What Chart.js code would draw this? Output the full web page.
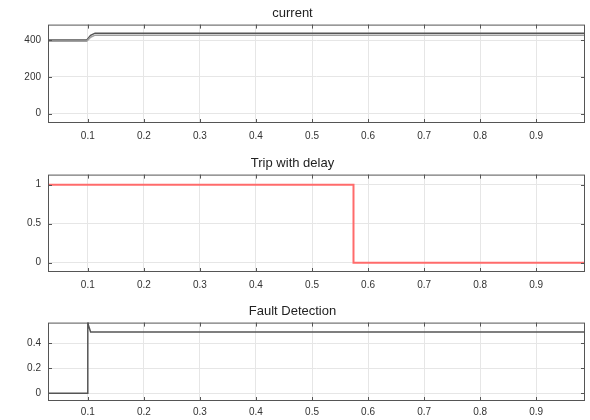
<!DOCTYPE html>
<html>
<head>
<meta charset="utf-8">
<script src="https://cdn.jsdelivr.net/npm/chart.js@4"></script>
<style>
  body { margin: 0; background: #fff; overflow: hidden; }
  .box { position: absolute; left: 0; width: 590px; }
</style>
</head>
<body>
<div class="box" style="top:0;height:149px"><canvas id="c1"></canvas></div>
<div class="box" style="top:150px;height:148px"><canvas id="c2"></canvas></div>
<div class="box" style="top:298px;height:125px"><canvas id="c3"></canvas></div>
<script>
// shared x ticks (time, s)
var xTicks = [0.1, 0.2, 0.3, 0.4, 0.5, 0.6, 0.7, 0.8, 0.9];

// current
var curX = [0.029, 0.098, 0.105, 0.113, 0.99];
var curA = [402, 402, 428, 440, 440];
var curB = [396, 396, 418, 429, 429];
var curTicks = [0, 200, 400];

// trip with delay
var tripX = [0.029, 0.574, 0.574, 0.99];
var tripY = [1, 1, 0, 0];
var tripTicks = [0, 0.5, 1];

// fault detection
var faultX = [0.029, 0.1, 0.1, 0.105, 0.99];
var faultY = [0, 0, 0.56, 0.49, 0.49];
var faultTicks = [0, 0.2, 0.4];

function pts(xs, ys) {
    return xs.map(function (x, i) { return { x: x, y: ys[i] }; });
}

// matlab style box with inward ticks
var boxPlugin = {
    id: 'box',
    afterDraw: function (chart) {
        var a = chart.chartArea, ctx = chart.ctx;
        var sx = chart.scales.x, sy = chart.scales.y;
        ctx.save();
        ctx.strokeStyle = '#555';
        ctx.lineWidth = 1;
        ctx.strokeRect(a.left + 0.5, a.top + 0.5, a.right - a.left - 1, a.bottom - a.top - 1);
        ctx.beginPath();
        sx.ticks.forEach(function (t) {
            var px = Math.round(sx.getPixelForValue(t.value)) + 0.5;
            ctx.moveTo(px, a.bottom); ctx.lineTo(px, a.bottom - 4);
            ctx.moveTo(px, a.top); ctx.lineTo(px, a.top + 4);
        });
        sy.ticks.forEach(function (t) {
            var py = Math.round(sy.getPixelForValue(t.value)) + 0.5;
            ctx.moveTo(a.left, py); ctx.lineTo(a.left + 4, py);
            ctx.moveTo(a.right, py); ctx.lineTo(a.right - 4, py);
        });
        ctx.stroke();
        ctx.restore();
    }
};

function crearGrafico(id, titulo, series, ymin, ymax, yTicks, xpad) {
    var ctx = document.getElementById(id);
    return new Chart(ctx, {
        type: 'scatter',
        data: {
            datasets: series.map(function (s) {
                return {
                    data: s.data,
                    showLine: true,
                    borderColor: s.color,
                    borderWidth: s.width || 1.5,
                    pointRadius: 0,
                    tension: 0
                };
            })
        },
        options: {
            animation: false,
            responsive: true,
            maintainAspectRatio: false,
            layout: { padding: { left: 0, right: 5, top: 0, bottom: 0 } },
            plugins: {
                legend: { display: false },
                tooltip: { enabled: false },
                title: {
                    display: true,
                    text: titulo,
                    color: '#222',
                    font: { family: 'Liberation Sans', size: 13, weight: 'normal' },
                    padding: { top: 6, bottom: 3 }
                }
            },
            scales: {
                x: {
                    type: 'linear',
                    min: 0.029,
                    max: 0.987,
                    afterBuildTicks: function (scale) {
                        scale.ticks = xTicks.map(function (v) { return { value: v }; });
                    },
                    ticks: {
                        color: '#333',
                        font: { family: 'Liberation Sans', size: 10 },
                        padding: xpad,
                        maxRotation: 0,
                        callback: function (v) { return v; }
                    },
                    grid: { color: '#e6e6e6', drawTicks: false },
                    border: { display: false }
                },
                y: {
                    min: ymin,
                    max: ymax,
                    afterBuildTicks: function (scale) {
                        scale.ticks = yTicks.map(function (v) { return { value: v }; });
                    },
                    afterFit: function (scale) { scale.width = 48; },
                    ticks: {
                        color: '#333',
                        font: { family: 'Liberation Sans', size: 10 },
                        padding: 7,
                        callback: function (v) { return v; }
                    },
                    grid: { color: '#e6e6e6', drawTicks: false },
                    border: { display: false }
                }
            }
        },
        plugins: [boxPlugin]
    });
}

crearGrafico('c1', 'current', [
    { data: pts(curX, curB), color: '#a0a0a0', width: 1.5 },
    { data: pts(curX, curA), color: '#555555', width: 1.5 }
], -52, 487, curTicks, 7);

crearGrafico('c2', 'Trip with delay', [
    { data: pts(tripX, tripY), color: '#ff6b6b', width: 2 }
], -0.12, 1.13, tripTicks, 7);

crearGrafico('c3', 'Fault Detection', [
    { data: pts(faultX, faultY), color: '#555555', width: 1.5 }
], -0.063, 0.565, faultTicks, 5);
</script>
</body>
</html>
